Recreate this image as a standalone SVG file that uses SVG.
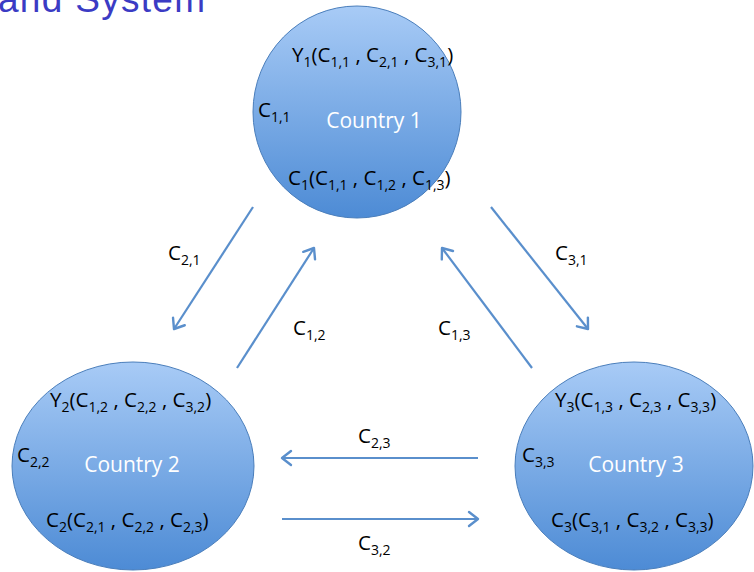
<svg xmlns="http://www.w3.org/2000/svg" width="754" height="572" viewBox="0 0 754 572">
<style>
.t{font-family:"Open Sans","Liberation Sans",sans-serif;font-size:20.5px;fill:#000}
.s{font-size:14px}
.cn{font-family:"Open Sans","Liberation Sans",sans-serif;font-size:21px;fill:#fff;text-anchor:middle}
.node ellipse{fill:url(#g);stroke:#4a7ebb;stroke-width:1}
.conn line{stroke:#5a8fcc;stroke-width:2.2;fill:none;marker-end:url(#ah)}
.title{font-family:"Liberation Sans",sans-serif;font-size:37px;fill:#3b3bc4}
</style>
<defs>
<linearGradient id="g" x1="0" y1="0" x2="0" y2="1">
<stop offset="0" stop-color="#a8cbf6"/>
<stop offset="1" stop-color="#4d8bd5"/>
</linearGradient>
<marker id="ah" markerUnits="userSpaceOnUse" markerWidth="20" markerHeight="20" viewBox="-12 -10 14 20" refX="0" refY="0" orient="auto">
<path d="M-9,-7 L0,0 L-9,7" fill="none" stroke="#5a8fcc" stroke-width="2.4" stroke-linecap="round" stroke-linejoin="round"/>
</marker>
</defs>
<text class="title" x="-2" y="12" textLength="207">and System</text>
<g id="country1" class="node">
<ellipse cx="357" cy="112" rx="104" ry="106"/>
<text class="t" x="292" y="62">Y<tspan class="s" dy="5">1</tspan><tspan dy="-5">(C</tspan><tspan class="s" dy="5">1,1</tspan><tspan dy="-5"> , C</tspan><tspan class="s" dy="5">2,1</tspan><tspan dy="-5"> , C</tspan><tspan class="s" dy="5">3,1</tspan><tspan dy="-5">)</tspan></text>
<text class="t" x="258" y="117">C<tspan class="s" dy="5">1,1</tspan></text>
<text class="cn" x="374" y="128">Country 1</text>
<text class="t" x="288" y="185">C<tspan class="s" dy="5">1</tspan><tspan dy="-5">(C</tspan><tspan class="s" dy="5">1,1</tspan><tspan dy="-5"> , C</tspan><tspan class="s" dy="5">1,2</tspan><tspan dy="-5"> , C</tspan><tspan class="s" dy="5">1,3</tspan><tspan dy="-5">)</tspan></text>
</g>
<g id="country2" class="node">
<ellipse cx="133" cy="466" rx="121" ry="104"/>
<text class="t" x="50" y="407">Y<tspan class="s" dy="5">2</tspan><tspan dy="-5">(C</tspan><tspan class="s" dy="5">1,2</tspan><tspan dy="-5"> , C</tspan><tspan class="s" dy="5">2,2</tspan><tspan dy="-5"> , C</tspan><tspan class="s" dy="5">3,2</tspan><tspan dy="-5">)</tspan></text>
<text class="t" x="17" y="462">C<tspan class="s" dy="5">2,2</tspan></text>
<text class="cn" x="132" y="472">Country 2</text>
<text class="t" x="46" y="527">C<tspan class="s" dy="5">2</tspan><tspan dy="-5">(C</tspan><tspan class="s" dy="5">2,1</tspan><tspan dy="-5"> , C</tspan><tspan class="s" dy="5">2,2</tspan><tspan dy="-5"> , C</tspan><tspan class="s" dy="5">2,3</tspan><tspan dy="-5">)</tspan></text>
</g>
<g id="country3" class="node">
<ellipse cx="634" cy="466" rx="119" ry="104"/>
<text class="t" x="555" y="407">Y<tspan class="s" dy="5">3</tspan><tspan dy="-5">(C</tspan><tspan class="s" dy="5">1,3</tspan><tspan dy="-5"> , C</tspan><tspan class="s" dy="5">2,3</tspan><tspan dy="-5"> , C</tspan><tspan class="s" dy="5">3,3</tspan><tspan dy="-5">)</tspan></text>
<text class="t" x="522" y="462">C<tspan class="s" dy="5">3,3</tspan></text>
<text class="cn" x="636" y="472">Country 3</text>
<text class="t" x="551" y="527">C<tspan class="s" dy="5">3</tspan><tspan dy="-5">(C</tspan><tspan class="s" dy="5">3,1</tspan><tspan dy="-5"> , C</tspan><tspan class="s" dy="5">3,2</tspan><tspan dy="-5"> , C</tspan><tspan class="s" dy="5">3,3</tspan><tspan dy="-5">)</tspan></text>
</g>
<g id="connectors" class="conn">
<line x1="253" y1="207" x2="174" y2="329"/>
<line x1="237" y1="368" x2="314" y2="248"/>
<line x1="491" y1="207" x2="588" y2="329"/>
<line x1="532" y1="368" x2="442" y2="248"/>
<line x1="478" y1="458" x2="282" y2="458"/>
<line x1="282" y1="519" x2="478" y2="519"/>
</g>
<g id="labels">
<text class="t" x="168" y="260">C<tspan class="s" dy="5">2,1</tspan></text>
<text class="t" x="293" y="335">C<tspan class="s" dy="5">1,2</tspan></text>
<text class="t" x="555" y="260">C<tspan class="s" dy="5">3,1</tspan></text>
<text class="t" x="438" y="335">C<tspan class="s" dy="5">1,3</tspan></text>
<text class="t" x="358" y="443">C<tspan class="s" dy="5">2,3</tspan></text>
<text class="t" x="358" y="550">C<tspan class="s" dy="5">3,2</tspan></text>
</g>
</svg>
